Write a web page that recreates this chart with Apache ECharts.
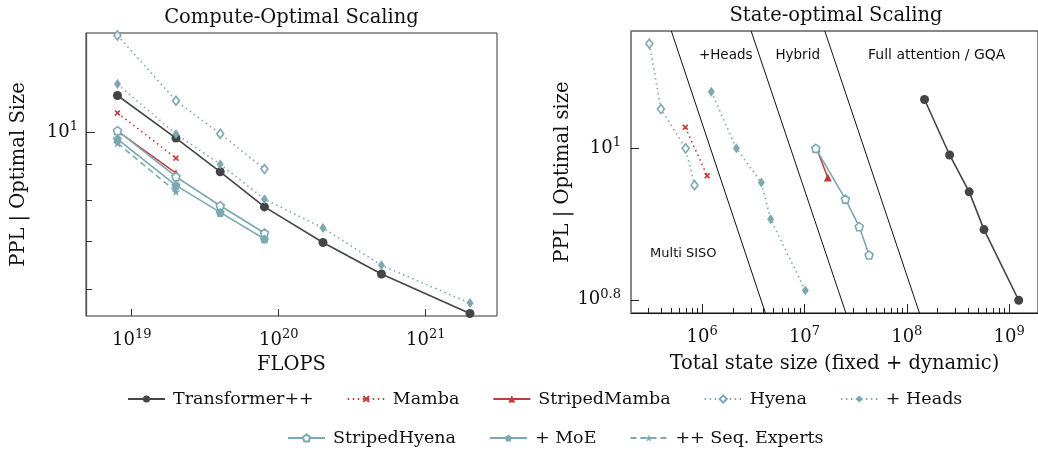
<!DOCTYPE html>
<html><head><meta charset="utf-8">
<script src="https://cdn.jsdelivr.net/npm/echarts@6/dist/echarts.min.js"></script>
<style>html,body{margin:0;padding:0;background:#fff}#c{width:1038px;height:455px}</style>
</head><body><div id="c"></div>
<script>
// ---------- Left panel: Compute-Optimal Scaling (FLOPS vs PPL) ----------
const flops = [8e18, 2e19, 4e19, 8e19, 2e20, 5e20, 2e21];
const leftTransformer = [11.27, 9.81, 8.79, 7.84, 6.98, 6.30, 5.54];
const leftMamba = [10.65, 9.19];
const leftStripedMamba = [10.04, 8.75];
const leftHyena = [13.71, 11.08, 9.95, 8.87];
const leftHeads = [11.70, 9.94, 9.01, 8.04, 7.32, 6.48, 5.73];
const leftStripedHyena = [10.05, 8.65, 7.87, 7.20];
const leftMoE = [9.78, 8.41, 7.70, 7.06];
const leftSeqExperts = [9.65, 8.24];

// ---------- Right panel: State-optimal Scaling (state size vs PPL) ----------
const rightHyenaState = [3.05e5, 3.96e5, 6.9e5, 8.43e5];
const rightHyena = [13.75, 11.27, 10.0, 8.94];
const rightMambaState = [6.85e5, 1.12e6];
const rightMamba = [10.66, 9.20];
const rightHeadsState = [1.23e6, 2.16e6, 3.79e6, 4.67e6, 1.02e7];
const rightHeads = [11.88, 10.0, 9.01, 8.06, 6.49];
const rightStripedMambaState = [1.31e7, 1.69e7];
const rightStripedMamba = [10.0, 9.15];
const rightStripedHyenaState = [1.29e7, 2.51e7, 3.43e7, 4.28e7];
const rightStripedHyena = [10.0, 8.57, 7.88, 7.23];
const rightTransformerState = [1.49e8, 2.62e8, 4.07e8, 5.68e8, 1.24e9];
const rightTransformer = [11.6, 9.80, 8.76, 7.81, 6.30];

// region boundary lines (state size at top / bottom PPL)
const boundaryState = [[5.0e5, 4.15e6], [3.01e6, 2.54e7], [1.58e7, 1.33e8]];
const boundaryPPL = [14.29, 6.06];
const regionLabels = ['+Heads', 'Hybrid', 'Full attention / GQA', 'Multi SISO'];

// tick labels (exponents)
const leftXTickExp = [19, 20, 21];
const leftYTickExp = [1];
const leftYMinorTicks = [9, 8, 7, 6];
const rightXTickExp = [6, 7, 8, 9];
const rightYTickExp = [1, 0.8];

const legendRow1 = ['Transformer++', 'Mamba', 'StripedMamba', 'Hyena', '+ Heads'];
const legendRow2 = ['StripedHyena', '+ MoE', '++ Seq. Experts'];

// ---------- styles ----------
const DARK = '#454545', RED = '#c23b3b', TEAL = '#7ba8b2';
const SERIF = 'DejaVu Serif';
const PENT = 'path://M5,0 L9.76,3.45 L7.94,9.05 L2.06,9.05 L0.24,3.45 Z';
const STAR = 'path://M5,0 L6.18,3.38 L9.76,3.45 L6.9,5.62 L7.94,9.05 L5,7 L2.06,9.05 L3.1,5.62 L0.24,3.45 L3.82,3.38 Z';
const XMARK = 'path://M2,0 L5,3 L8,0 L10,2 L7,5 L10,8 L8,10 L5,7 L2,10 L0,8 L3,5 L0,2 Z';
const DOT = [1.5, 3.5];

const styles = {
  'Transformer++': {symbol: 'circle', size: 9, line: {color: DARK, width: 1.6, type: 'solid'}, item: {color: DARK}},
  'Mamba': {symbol: XMARK, size: 6, line: {color: RED, width: 1.6, type: DOT}, item: {color: RED}},
  'StripedMamba': {symbol: 'triangle', size: 8, line: {color: RED, width: 1.5, type: 'solid'}, item: {color: RED}},
  'Hyena': {symbol: 'diamond', size: [7, 9], line: {color: TEAL, width: 1.6, type: DOT}, item: {color: '#fff', borderColor: TEAL, borderWidth: 1.6}},
  '+ Heads': {symbol: 'diamond', size: [7, 10], line: {color: TEAL, width: 1.6, type: DOT}, item: {color: TEAL}},
  'StripedHyena': {symbol: PENT, size: 8, line: {color: TEAL, width: 1.6, type: 'solid'}, item: {color: '#fff', borderColor: TEAL, borderWidth: 1.6}},
  '+ MoE': {symbol: PENT, size: 9, line: {color: TEAL, width: 1.6, type: 'solid'}, item: {color: TEAL}},
  '++ Seq. Experts': {symbol: STAR, size: 9, line: {color: TEAL, width: 1.6, type: [6, 4]}, item: {color: TEAL}}
};

const lg = Math.log10;
function mk(name, xs, ys, xi, yi) {
  const s = styles[name];
  return {
    name, type: 'line', xAxisIndex: xi, yAxisIndex: yi,
    data: ys.map((v, i) => [lg(xs[i]), lg(v)]),
    symbol: s.symbol, symbolSize: s.size, showSymbol: true,
    lineStyle: s.line, itemStyle: s.item, silent: true, animation: false,
    emphasis: {disabled: true}, z: 3
  };
}

const supFmt = v => '{b|10}{s|' + (Math.round(v * 10) / 10) + '}';
const richTick = {
  b: {fontFamily: SERIF, fontSize: 18, color: '#111', lineHeight: 24},
  s: {fontFamily: SERIF, fontSize: 13, color: '#111', verticalAlign: 'top', lineHeight: 8}
};

const series = [];
// boundaries first (under data)
boundaryState.forEach(b => {
  series.push({type: 'line', xAxisIndex: 1, yAxisIndex: 2, symbol: 'none', silent: true, animation: false, clip: true,
    data: [[lg(b[0]), lg(boundaryPPL[0])], [lg(b[1]), lg(boundaryPPL[1])]],
    lineStyle: {color: '#111', width: 1}, z: 1});
});
// left panel
series.push(mk('Transformer++', flops, leftTransformer, 0, 0));
series.push(mk('Mamba', flops, leftMamba, 0, 0));
series.push(mk('StripedMamba', flops, leftStripedMamba, 0, 0));
series.push(mk('Hyena', flops, leftHyena, 0, 0));
series.push(mk('+ Heads', flops, leftHeads, 0, 0));
series.push(mk('StripedHyena', flops, leftStripedHyena, 0, 0));
series.push(mk('+ MoE', flops, leftMoE, 0, 0));
series.push(mk('++ Seq. Experts', flops, leftSeqExperts, 0, 0));
// right panel
series.push(mk('Transformer++', rightTransformerState, rightTransformer, 1, 2));
series.push(mk('Mamba', rightMambaState, rightMamba, 1, 2));
series.push(mk('StripedMamba', rightStripedMambaState, rightStripedMamba, 1, 2));
series.push(mk('Hyena', rightHyenaState, rightHyena, 1, 2));
series.push(mk('+ Heads', rightHeadsState, rightHeads, 1, 2));
series.push(mk('StripedHyena', rightStripedHyenaState, rightStripedHyena, 1, 2));

// minor ticks for right x axis (2..9 per decade)
const rightXMinor = [];
for (let d = 5; d <= 9; d++) for (let k = 2; k <= 9; k++) rightXMinor.push(lg(k * Math.pow(10, d)));

const LX = [18.689, 21.485], LY = [0.7399, 1.1404];
const RX = [5.305, 9.282], RY = [0.7825, 1.155];
const nameStyle = {fontFamily: SERIF, fontSize: 19.5, color: '#111'};

const legendCommon = {
  itemWidth: 37, itemHeight: 9, itemGap: 33, selectedMode: false, padding: 0,
  textStyle: {fontFamily: SERIF, fontSize: 17.5, color: '#111', padding: [0, 0, 0, 3]}
};

const option = {
  backgroundColor: '#fff',
  animation: false,
  title: [
    {text: 'Compute-Optimal Scaling', left: 291.5, top: 8, textAlign: 'center', padding: 0,
      textStyle: {fontFamily: SERIF, fontSize: 19.5, fontWeight: 'normal', color: '#111'}},
    {text: 'State-optimal Scaling', left: 836, top: 6, textAlign: 'center', padding: 0,
      textStyle: {fontFamily: SERIF, fontSize: 19.5, fontWeight: 'normal', color: '#111'}}
  ],
  legend: [
    Object.assign({data: legendRow1, left: 127, top: 390}, legendCommon),
    Object.assign({data: legendRow2, left: 287, top: 429}, legendCommon)
  ],
  grid: [
    {left: 86, top: 33, width: 411, height: 283, show: true, borderColor: '#333', borderWidth: 1, containLabel: false},
    {left: 631, top: 31, width: 412, height: 282, show: true, borderColor: '#111', borderWidth: 1, containLabel: false}
  ],
  xAxis: [
    {type: 'value', gridIndex: 0, min: LX[0], max: LX[1], position: 'bottom',
      name: 'FLOPS', nameLocation: 'middle', nameGap: 39, nameTextStyle: nameStyle,
      axisLine: {show: false}, splitLine: {show: false},
      axisTick: {inside: true, length: 7, customValues: leftXTickExp, lineStyle: {color: '#333'}},
      axisLabel: {customValues: leftXTickExp, formatter: supFmt, rich: richTick, margin: 12}},
    {type: 'value', gridIndex: 1, min: RX[0], max: RX[1], position: 'bottom',
      name: 'Total state size (fixed + dynamic)', nameLocation: 'middle', nameGap: 41, nameTextStyle: nameStyle,
      axisLine: {show: true, lineStyle: {color: '#111', width: 1}}, splitLine: {show: false},
      axisTick: {inside: true, length: 9, customValues: rightXTickExp, lineStyle: {color: '#222'}},
      axisLabel: {customValues: rightXTickExp, formatter: supFmt, rich: richTick, margin: 12}},
    {type: 'value', gridIndex: 1, min: RX[0], max: RX[1], position: 'bottom',
      axisLine: {show: false}, splitLine: {show: false}, axisLabel: {show: false},
      axisTick: {inside: true, length: 5, customValues: rightXMinor, lineStyle: {color: '#222'}}}
  ],
  yAxis: [
    {type: 'value', gridIndex: 0, min: LY[0], max: LY[1], position: 'left',
      name: 'PPL | Optimal Size', nameLocation: 'middle', nameGap: 57, nameRotate: 90, nameTextStyle: nameStyle,
      axisLine: {show: true, lineStyle: {color: '#555', width: 1.3}}, splitLine: {show: false},
      axisTick: {inside: true, length: 9, customValues: leftYTickExp, lineStyle: {color: '#333'}},
      axisLabel: {customValues: leftYTickExp, formatter: supFmt, rich: richTick, margin: 8}},
    {type: 'value', gridIndex: 0, min: LY[0], max: LY[1], position: 'left',
      axisLine: {show: false}, splitLine: {show: false}, axisLabel: {show: false},
      axisTick: {inside: true, length: 6, customValues: leftYMinorTicks.map(lg), lineStyle: {color: '#333'}}},
    {type: 'value', gridIndex: 1, min: RY[0], max: RY[1], position: 'left',
      name: 'PPL | Optimal size', nameLocation: 'middle', nameGap: 58, nameRotate: 90, nameTextStyle: nameStyle,
      axisLine: {show: true, lineStyle: {color: '#888', width: 1.6}}, splitLine: {show: false},
      axisTick: {inside: true, length: 8, customValues: rightYTickExp, lineStyle: {color: '#222'}},
      axisLabel: {customValues: rightYTickExp, formatter: supFmt, rich: richTick, margin: 10}}
  ],
  graphic: [
    {type: 'text', x: 725.7, y: 55, silent: true, style: {text: regionLabels[0], font: '13.5px "DejaVu Sans"', fill: '#111', align: 'center', verticalAlign: 'middle'}},
    {type: 'text', x: 797.7, y: 55, silent: true, style: {text: regionLabels[1], font: '13.5px "DejaVu Sans"', fill: '#111', align: 'center', verticalAlign: 'middle'}},
    {type: 'text', x: 936.7, y: 55, silent: true, style: {text: regionLabels[2], font: '14px "DejaVu Sans"', fill: '#111', align: 'center', verticalAlign: 'middle'}},
    {type: 'text', x: 683.3, y: 254, silent: true, style: {text: regionLabels[3], font: '13px "DejaVu Sans"', fill: '#111', align: 'center', verticalAlign: 'middle'}}
  ],
  series
};

const chart = echarts.init(document.getElementById('c'), null, {renderer: 'canvas'});
chart.setOption(option);
</script>
</body></html>
